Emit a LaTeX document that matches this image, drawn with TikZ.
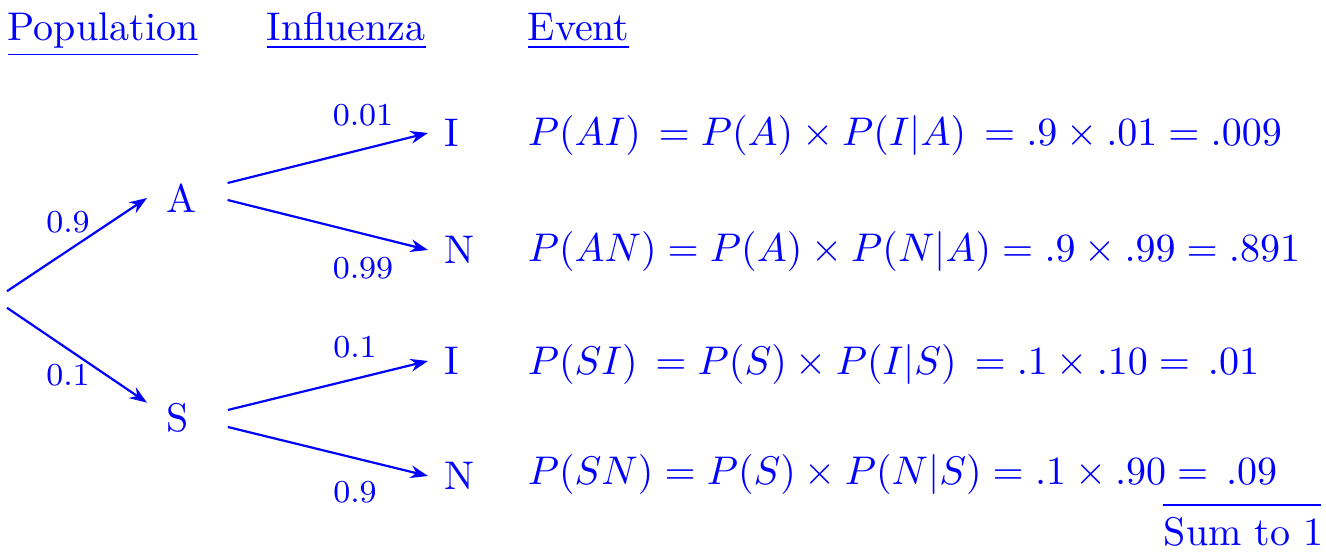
\documentclass[tikz,border=0pt]{standalone}
\usetikzlibrary{arrows.meta}
\begin{document}
\begin{tikzpicture}[x=0.25pt,y=-0.25pt,
  every node/.style={text=blue},
  arr/.style={draw=blue, line width=0.55pt, -{Stealth[length=4.4pt,width=3.2pt]}},
  lbl/.style={font=\footnotesize, inner sep=0pt},
  hdr/.style={anchor=base west, inner sep=0pt},
  leaf/.style={anchor=west, inner xsep=4pt, inner ysep=0pt},
  mid/.style={anchor=west, inner xsep=4.75pt, inner ysep=0pt},
  eq/.style={anchor=base west, inner sep=0pt}]
\useasboundingbox (0,0) rectangle (1326,552);
% headers
\node[hdr] (hpop) at (7,41) {\underline{Population}};
\node[hdr] (hinf) at (266,41) {\underline{Influenza}};
\node[hdr] (hev) at (527,41) {\underline{Event}};
% tree nodes
\node[inner sep=0pt, minimum height=3.75pt, minimum width=0pt] (root) at (7,299.5) {};
\node[mid] (A) at (147,198) {A};
\node[mid] (S) at (147,418) {S};
\node[leaf] (AI) at (428,133) {I};
\node[leaf] (AN) at (428,250) {N};
\node[leaf] (SI) at (428,361) {I};
\node[leaf] (SN) at (428,476) {N};
% connectors
\draw[arr] (root.north) -- (A.west);
\draw[arr] (root.south) -- (S.north west);
\draw[arr] ([shift={(11,-15)}]A.east) -- (AI.west);
\draw[arr] ([shift={(11,2)}]A.east) -- (AN.west);
\draw[arr] ([shift={(19,-8)}]S.east) -- (SI.west);
\draw[arr] ([shift={(19,9)}]S.east) -- (SN.west);
% branch labels
\node[lbl] (l1) at (68,222) {0.9};
\node[lbl] (l2) at (68,375) {0.1};
\node[lbl] (l3) at (363,115) {0.01};
\node[lbl] (l4) at (363,268) {0.99};
\node[lbl] (l5) at (355,347) {0.1};
\node[lbl] (l6) at (355,492) {0.9};
% equations
\node[eq] (e1) at (527,146) {$P(AI)\, = P(A)\times P(I|A)\, = .9\times .01 = .009$};
\node[eq] (e2) at (527,262) {$P(AN) = P(A)\times P(N|A) = .9\times .99 = .891$};
\node[eq] (e3) at (527,375) {$P(SI)\, = P(S)\times P(I|S)\, = .1\times .10 = \,.01$};
\node[eq] (e4) at (527,485) {$P(SN) = P(S)\times P(N|S) = .1\times .90 = \,.09$};
% sum
\node[anchor=base west, inner sep=0pt] (sum) at (1163,546) {Sum to 1};
\draw[blue, line width=0.5pt] ([yshift=3pt]sum.north west) -- ([yshift=3pt,xshift=-1pt]sum.north east);
\end{tikzpicture}
\end{document}
